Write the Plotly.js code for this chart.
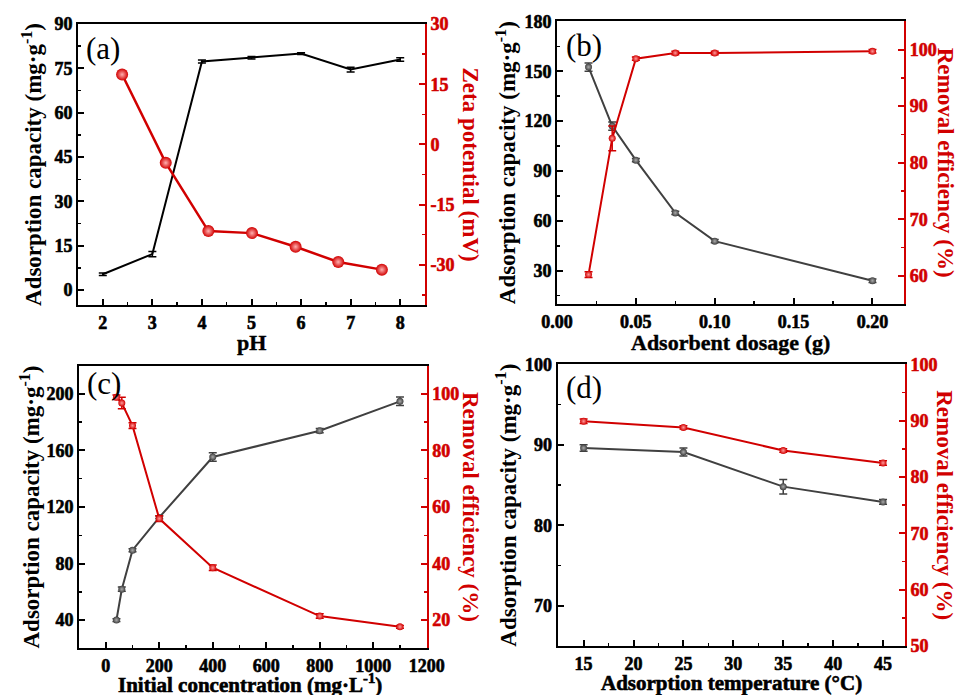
<!DOCTYPE html>
<html><head><meta charset="utf-8">
<script src="https://cdn.plot.ly/plotly-3.0.1.min.js"></script>
<style>
html,body{margin:0;padding:0;background:#fff}#chart{width:960px;height:695px}
g.xtick text, g.x2tick text, g.x3tick text, g.x4tick text,
g.ytick text, g.y3tick text, g.y5tick text, g.y7tick text { font-weight:700 !important; stroke:#000; stroke-width:0.6px; }
g.y2tick text, g.y4tick text, g.y6tick text, g.y8tick text { font-weight:700 !important; stroke:#d10000; stroke-width:0.6px; }
g.annotation[data-index="8"] text, g.annotation[data-index="9"] text { stroke:#000; stroke-width:0.4px; }
g.annotation[data-index="10"] text, g.annotation[data-index="11"] text { stroke:#000; stroke-width:0.6px; }
</style>
</head><body><div id="chart"></div>
<script>
// Panel (a)
const pH = [2, 3, 4, 5, 6, 7, 8];
const qA = [5.4, 12.2, 77.3, 78.6, 80.0, 74.6, 78.0];
const qAerr = [0.4, 0.9, 0.5, 0.4, 0.3, 0.8, 0.6];
const zetaPH = [2.39, 3.27, 4.13, 5.01, 5.89, 6.75, 7.63];
const zeta = [17.4, -4.6, -21.6, -22.1, -25.5, -29.3, -31.2];
// Panel (b)
const dose = [0.02, 0.035, 0.05, 0.075, 0.1, 0.2];
const qB = [152.5, 117, 96.5, 64.8, 47.8, 24];
const qBerr = [2.5, 2.5, 1, 1, 1, 1];
const remB = [60.2, 84.3, 98.4, 99.4, 99.4, 99.7];
const remBerr = [0.5, 2.2, 0.3, 0.3, 0.3, 0.3];
// Panel (c)
const conc = [40, 60, 100, 200, 400, 800, 1100];
const qC = [40, 61.8, 89.4, 112.6, 155.4, 174, 194.8];
const qCerr = [1, 1.5, 1, 1, 3, 1.5, 3];
const remC = [98.8, 96.8, 88.8, 55.9, 38.5, 21.4, 17.6];
const remCerr = [0.8, 2, 1, 1, 1, 0.8, 0.5];
// Panel (d)
const temp = [15, 25, 35, 45];
const qD = [89.6, 89.1, 84.8, 82.9];
const qDerr = [0.4, 0.5, 0.9, 0.3];
const remD = [89.9, 88.8, 84.7, 82.5];
const remDerr = [0.4, 0.3, 0.3, 0.4];

// Tick labels
const ticksXA = ['2', '3', '4', '5', '6', '7', '8'];
const ticksYA = ['0', '15', '30', '45', '60', '75', '90'];
const ticksZeta = ['-30', '-15', '0', '15', '30'];
const ticksXB = ['0.00', '0.05', '0.10', '0.15', '0.20'];
const ticksYB = ['30', '60', '90', '120', '150', '180'];
const ticksRB = ['60', '70', '80', '90', '100'];
const ticksXC = ['0', '200', '400', '600', '800', '1000', '1200'];
const ticksYC = ['40', '80', '120', '160', '200'];
const ticksRC = ['20', '40', '60', '80', '100'];
const ticksXD = ['15', '20', '25', '30', '35', '40', '45'];
const ticksYD = ['70', '80', '90', '100'];
const ticksRD = ['50', '60', '70', '80', '90', '100'];

const RED = '#d10000';
const GRAY = '#404040';
const FONT = 'Liberation Serif, Times New Roman, serif';

function err(arr, color) {
  return {type: 'data', array: arr, visible: true, color: color, thickness: 1.5, width: 4};
}
const traces = [
  {x: pH, y: qA, xaxis: 'x', yaxis: 'y', mode: 'lines', line: {color: '#000', width: 2},
   error_y: err(qAerr, '#000'), name: 'q (a)'},
  {x: zetaPH, y: zeta, xaxis: 'x', yaxis: 'y2', mode: 'lines+markers', line: {color: RED, width: 2.5},
   marker: {size: 12, color: RED, gradient: {type: 'radial', color: '#ffb0b0'}, line: {width: 0}}, name: 'zeta'},
  {x: dose, y: qB, xaxis: 'x2', yaxis: 'y3', mode: 'lines+markers', line: {color: GRAY, width: 2},
   marker: {size: 7, color: GRAY, gradient: {type: 'radial', color: '#aaaaaa'}}, error_y: err(qBerr, GRAY), name: 'q (b)'},
  {x: dose, y: remB, xaxis: 'x2', yaxis: 'y4', mode: 'lines+markers', line: {color: RED, width: 2},
   marker: {size: 7, color: RED, gradient: {type: 'radial', color: '#ff9a9a'}}, error_y: err(remBerr, RED), name: 'R (b)'},
  {x: conc, y: qC, xaxis: 'x3', yaxis: 'y5', mode: 'lines+markers', line: {color: GRAY, width: 2},
   marker: {size: 7, color: GRAY, gradient: {type: 'radial', color: '#aaaaaa'}}, error_y: err(qCerr, GRAY), name: 'q (c)'},
  {x: conc, y: remC, xaxis: 'x3', yaxis: 'y6', mode: 'lines+markers', line: {color: RED, width: 2},
   marker: {size: 7, color: RED, gradient: {type: 'radial', color: '#ff9a9a'}}, error_y: err(remCerr, RED), name: 'R (c)'},
  {x: temp, y: qD, xaxis: 'x4', yaxis: 'y7', mode: 'lines+markers', line: {color: GRAY, width: 2},
   marker: {size: 7, color: GRAY, gradient: {type: 'radial', color: '#aaaaaa'}}, error_y: err(qDerr, GRAY), name: 'q (d)'},
  {x: temp, y: remD, xaxis: 'x4', yaxis: 'y8', mode: 'lines+markers', line: {color: RED, width: 2},
   marker: {size: 7, color: RED, gradient: {type: 'radial', color: '#ff9a9a'}}, error_y: err(remDerr, RED), name: 'R (d)'}
];

const tickfont = {family: FONT, size: 18, color: '#000', weight: 700};
const titlefont = {family: FONT, size: 23, color: '#000', weight: 700};
function tk(labels) {
  return {tickmode: 'array', tickvals: labels.map(Number), ticktext: labels};
}

function xax(dom, anchor, range, labels, minorD) {
  return Object.assign({domain: dom, anchor: anchor, range: range,
    showline: true, mirror: true, linecolor: '#000', linewidth: 2, ticks: 'inside', ticklen: 6, tickwidth: 2,
    tickcolor: '#000', showgrid: false, zeroline: false, tickfont: tickfont,
    minor: {ticks: 'inside', ticklen: 3, tickwidth: 1.5, dtick: minorD, tick0: 0, tickcolor: '#000', showgrid: false}}, tk(labels));
}
function yl(dom, anchor, range, labels, minorD, standoff) {
  return Object.assign({domain: dom, anchor: anchor, range: range,
    showline: true, linecolor: '#000', linewidth: 2, ticks: 'inside', ticklen: 6, tickwidth: 2,
    tickcolor: '#000', showgrid: false, zeroline: false, tickfont: tickfont,
    minor: {ticks: 'inside', ticklen: 3, tickwidth: 1.5, dtick: minorD, tick0: 0, tickcolor: '#000', showgrid: false},
    title: {text: 'Adsorption capacity (mg·g<sup>-1</sup>)', font: titlefont, standoff: standoff}}, tk(labels));
}
function yr(over, anchor, range, labels, minorD) {
  return Object.assign({overlaying: over, anchor: anchor, side: 'right', range: range,
    showline: true, linecolor: RED, linewidth: 2, ticks: 'inside', ticklen: 6, tickwidth: 2,
    tickcolor: RED, showgrid: false, zeroline: false,
    tickfont: Object.assign({}, tickfont, {color: RED}),
    minor: {ticks: 'inside', ticklen: 3, tickwidth: 1.5, dtick: minorD, tick0: 0, tickcolor: RED, showgrid: false}}, tk(labels));
}

const dA = [0.9655, 0.5612], dB = [0.9693, 0.5626], dC = [0.4738, 0.0672], dD = [0.4758, 0.0705];
const xA = [0.08125, 0.4427], xB = [0.5802, 0.9417], xC = [0.0823, 0.4445], xD = [0.5809, 0.9427];
const rtFont = {family: FONT, size: 23, color: RED, weight: 700};
const xtFont = {family: FONT, size: 22, color: '#000', weight: 700};
const xtFontB = {family: FONT, size: 21, color: '#000', weight: 700};
const lblFont = {family: FONT, size: 31, color: '#000'};
function ann(text, x, y, font, extra) {
  return Object.assign({text: text, xref: 'paper', yref: 'paper', x: x, y: y, showarrow: false,
    xanchor: 'center', yanchor: 'middle', font: font}, extra || {});
}
const mid = d => (d[0] + d[1]) / 2;

const layout = {
  width: 960, height: 695, margin: {l: 0, r: 0, t: 0, b: 0},
  paper_bgcolor: '#fff', plot_bgcolor: '#fff', showlegend: false,
  font: {family: FONT, color: '#000'},
  xaxis: xax(xA, 'y', [1.5, 8.5], ticksXA, 0.5),
  yaxis: yl([dA[1], dA[0]], 'x', [-5, 90], ticksYA, 7.5, 6),
  yaxis2: yr('y', 'x', [-40, 30], ticksZeta, 7.5),
  xaxis2: xax(xB, 'y3', [0, 0.22], ticksXB, 0.025),
  yaxis3: yl([dB[1], dB[0]], 'x2', [10, 180], ticksYB, 15, 2),
  yaxis4: yr('y3', 'x2', [55, 105], ticksRB, 5),
  xaxis3: xax(xC, 'y5', [-100, 1200], ticksXC, 100),
  yaxis5: yl([dC[1], dC[0]], 'x3', [20, 220], ticksYC, 20, 0),
  yaxis6: yr('y5', 'x3', [10, 110], ticksRC, 10),
  xaxis4: xax(xD, 'y7', [12.4, 47.2], ticksXD, 2.5),
  yaxis7: yl([dD[1], dD[0]], 'x4', [65, 100], ticksYD, 5, 2),
  yaxis8: yr('y7', 'x4', [50, 100], ticksRD, 5),
  annotations: [
    ann('(a)', 0.088, 0.958, lblFont, {xanchor: 'left', yanchor: 'top'}),
    ann('(b)', 0.5875, 0.962, lblFont, {xanchor: 'left', yanchor: 'top'}),
    ann('(c)', 0.0885, 0.476, lblFont, {xanchor: 'left', yanchor: 'top'}),
    ann('(d)', 0.5875, 0.470, lblFont, {xanchor: 'left', yanchor: 'top'}),
    ann('Zeta potential (mV)', 471 / 960, mid(dA), rtFont, {textangle: 90}),
    ann('Removal efficiency (%)', 945 / 960, mid(dB), rtFont, {textangle: 90}),
    ann('Removal efficiency (%)', 471 / 960, mid(dC), rtFont, {textangle: 90}),
    ann('Removal efficiency (%)', 945 / 960, mid(dD), rtFont, {textangle: 90}),
    ann('pH', mid(xA), 1 - 342 / 695, xtFont),
    ann('Adsorbent dosage (g)', mid(xB), 1 - 342 / 695, xtFont),
    ann('Initial concentration (mg·L<sup>-1</sup>)', mid(xC) - 0.003, 1 - 683 / 695, xtFontB),
    ann('Adsorption temperature (°C)', mid(xD), 1 - 683 / 695, xtFontB)
  ]
};
Plotly.newPlot('chart', traces, layout, {staticPlot: true, displayModeBar: false});
</script></body></html>
